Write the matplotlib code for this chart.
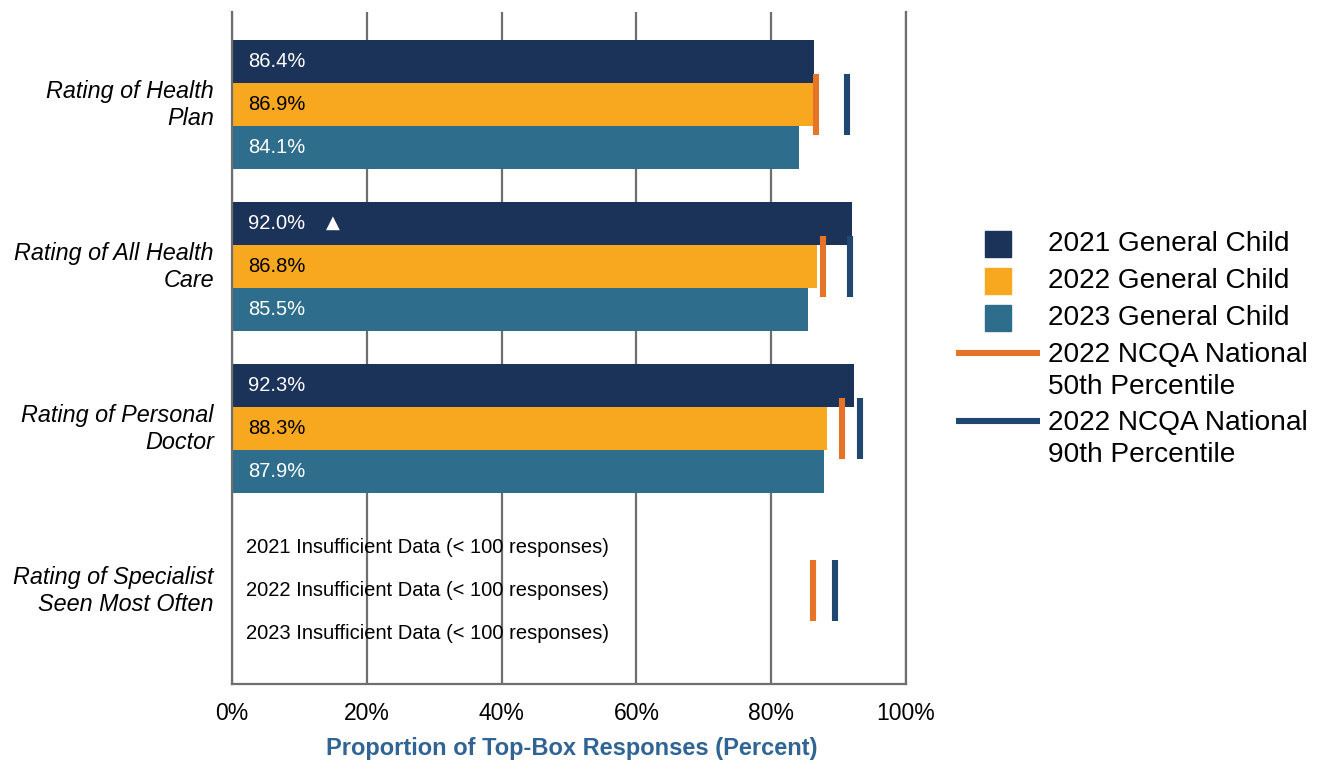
import matplotlib
matplotlib.use("Agg")
import matplotlib.pyplot as plt
from matplotlib.patches import Rectangle
from matplotlib.lines import Line2D
from matplotlib.transforms import ScaledTranslation

plt.rcParams['font.family'] = ['Liberation Sans', 'DejaVu Sans']

# ---- data -------------------------------------------------------------
categories = ["Rating of Health\nPlan", "Rating of All Health\nCare",
              "Rating of Personal\nDoctor", "Rating of Specialist\nSeen Most Often"]
series_names = ["2021 General Child", "2022 General Child", "2023 General Child"]
val_2021 = [86.4, 92.0, 92.3, None]
val_2022 = [86.9, 86.8, 88.3, None]
val_2023 = [84.1, 85.5, 87.9, None]
ncqa_50th = [86.7, 87.7, 90.5, 86.2]
ncqa_90th = [91.3, 91.7, 93.2, 89.5]
sig_higher_2021 = [False, True, False, False]
insufficient_years = ["2021", "2022", "2023"]
xticks = [0, 20, 40, 60, 80, 100]
xtick_labels = ["0%", "20%", "40%", "60%", "80%", "100%"]
line_labels = ["2022 NCQA National\n50th Percentile", "2022 NCQA National\n90th Percentile"]

# ---- style --------------------------------------------------------------
c2021, c2022, c2023 = "#1B3259", "#F7A81E", "#2E6E8C"
c50, c90 = "#E57428", "#1F4770"
grid_c = "#6E6E6E"
bar_colors = [c2021, c2022, c2023]
text_colors = ["white", "black", "white"]

W, H = 1318, 763
fig = plt.figure(figsize=(W / 100, H / 100), dpi=100)
ax = fig.add_axes([232 / W, 1 - 684 / H, (906 - 232) / W, (684 - 12) / H])

bar_h = 0.267
offsets = [-bar_h, 0, bar_h]
series = [val_2021, val_2022, val_2023]

for s, (vals, col, tcol, off) in enumerate(zip(series, bar_colors, text_colors, offsets)):
    for i, v in enumerate(vals):
        y = i + off
        if v is None:
            ax.text(2.1, y, f"{insufficient_years[s]} Insufficient Data (< 100 responses)",
                    va="center", ha="left", fontsize=14.5, color="black", zorder=4)
            continue
        ax.barh(y, v, height=bar_h, color=col, zorder=2)
        ax.text(2.4, y, f"{v:.1f}%", va="center", ha="left", fontsize=14.5,
                color=tcol, zorder=4)
        if s == 0 and sig_higher_2021[i]:
            ax.text(15.0, y, "\u25B2", va="center", ha="center", fontsize=13,
                    color="white", family="DejaVu Sans", zorder=4)

# percentile markers
mark_half = 0.19
for i, (p50, p90) in enumerate(zip(ncqa_50th, ncqa_90th)):
    ax.plot([p50, p50], [i - mark_half, i + mark_half], color=c50, lw=4.4,
            solid_capstyle="butt", zorder=3)
    ax.plot([p90, p90], [i - mark_half, i + mark_half], color=c90, lw=4.4,
            solid_capstyle="butt", zorder=3)

ax.set_xlim(0, 100)
ax.set_ylim(3.577, -0.571)
ax.set_xticks(xticks)
ax.set_xticklabels(xtick_labels, fontsize=16.5)
ax.set_yticks(range(len(categories)))
ax.set_yticklabels(categories, fontsize=16.8, style="italic", linespacing=1.22)
ax.tick_params(axis="y", length=0, pad=13)
ax.tick_params(axis="x", length=0, pad=13)
# nudge the category labels up a little so they sit centred on each group
nudge = ScaledTranslation(0, 4 / 100, fig.dpi_scale_trans)
for lbl in ax.get_yticklabels():
    lbl.set_transform(lbl.get_transform() + nudge)
ax.grid(axis="x", color=grid_c, lw=1.6, zorder=0)
ax.set_axisbelow(True)
ax.spines["top"].set_visible(False)
for side in ("left", "bottom", "right"):
    ax.spines[side].set_color(grid_c)
    ax.spines[side].set_linewidth(1.6)

# ---- figure-level text and legend -------------------------------------------
def fx(px):
    return px / W
def fy(py):
    return 1 - py / H

fig.text(fx(572), fy(748), "Proportion of Top-Box Responses (Percent)", fontsize=17,
         fontweight="bold", color="#2F6494", ha="center", va="center")

sq_tops = [231, 268, 305]
for top, col, name in zip(sq_tops, bar_colors, series_names):
    fig.add_artist(Rectangle((fx(985), fy(top + 26)), fx(26), 26 / H,
                             color=col, transform=fig.transFigure))
    fig.text(fx(1048), fy(top + 13), name, fontsize=20.2, va="center", ha="left")

for ly, col, lab in zip([353, 421], [c50, c90], line_labels):
    fig.add_artist(Line2D([fx(956), fx(1040)], [fy(ly), fy(ly)], color=col, lw=4.4,
                          solid_capstyle="butt", transform=fig.transFigure))
    fig.text(fx(1048), fy(ly - 11), lab, fontsize=20.2, va="top", ha="left",
             linespacing=1.28)

fig.savefig("out.png", dpi=100)
